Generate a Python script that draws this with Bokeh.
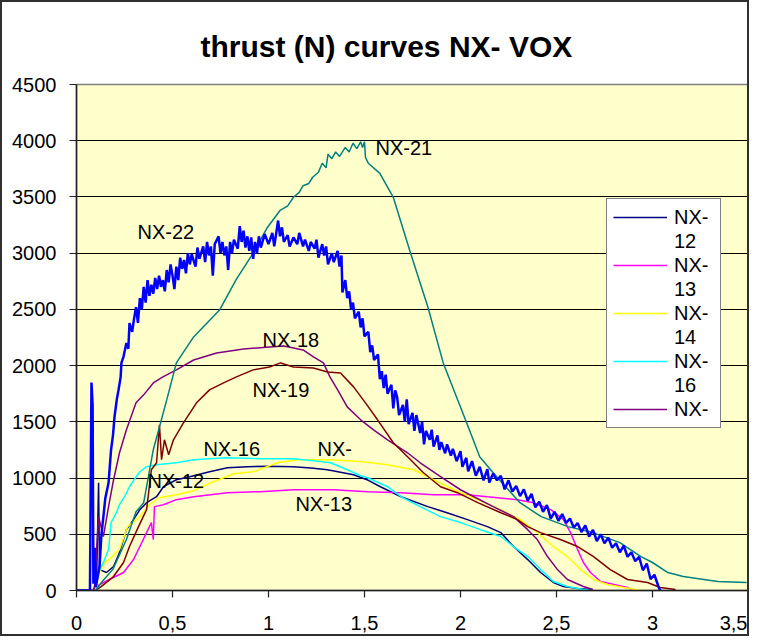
from bokeh.plotting import figure
from bokeh.models import FixedTicker, Legend, LegendItem, ColumnDataSource
from bokeh.core.properties import value
from bokeh.embed import file_html
from bokeh.resources import INLINE

# ---------------- data (time s, thrust N) ----------------
nx12_x = [0.0, 0.09, 0.104, 0.115, 0.12, 0.156, 0.193, 0.224, 0.26, 0.297, 0.33, 0.365, 0.417, 0.453, 0.52, 0.59, 0.693, 0.786, 0.89, 1.0, 1.13, 1.22, 1.307, 1.443, 1.52, 1.583, 1.69, 1.83, 1.93, 2.036, 2.14, 2.21, 2.276, 2.35, 2.417, 2.484, 2.536, 2.61, 2.68]
nx12_y = [0, 0, 36, 958, 186, 160, 213, 337, 541, 630, 719, 781, 834, 923, 985, 1012, 1056, 1092, 1101, 1105, 1101, 1090, 1074, 1030, 980, 923, 834, 746, 692, 630, 568, 515, 391, 275, 160, 71, 36, 18, 9]

nx13_x = [0.0, 0.09, 0.104, 0.17, 0.245, 0.297, 0.33, 0.365, 0.39, 0.40, 0.406, 0.453, 0.52, 0.61, 0.786, 0.958, 1.13, 1.34, 1.516, 1.69, 1.86, 2.036, 2.14, 2.297, 2.38, 2.47, 2.536, 2.573, 2.61, 2.64, 2.677, 2.73, 2.80, 2.87, 2.90]
nx13_y = [0, 0, 36, 98, 160, 275, 391, 515, 604, 453, 746, 763, 808, 834, 870, 879, 896, 896, 879, 870, 852, 852, 834, 808, 781, 719, 630, 515, 364, 249, 160, 80, 53, 27, 0]

nx14_x = [0.0, 0.1, 0.115, 0.146, 0.17, 0.224, 0.266, 0.33, 0.38, 0.43, 0.52, 0.61, 0.70, 0.82, 0.92, 1.047, 1.15, 1.323, 1.495, 1.62, 1.755, 1.86, 1.964, 2.09, 2.21, 2.31, 2.40, 2.484, 2.557, 2.625, 2.693, 2.766, 2.85, 2.94]
nx14_y = [0, 0, 142, 249, 275, 364, 568, 657, 763, 825, 852, 888, 958, 1038, 1056, 1136, 1163, 1163, 1145, 1118, 1074, 985, 896, 808, 719, 630, 515, 391, 302, 186, 98, 53, 27, 0]

nx16_x = [0.0, 0.1, 0.115, 0.14, 0.167, 0.18, 0.208, 0.224, 0.25, 0.276, 0.30, 0.33, 0.365, 0.417, 0.52, 0.61, 0.78, 0.958, 1.13, 1.234, 1.323, 1.41, 1.48, 1.516, 1.62, 1.69, 1.79, 1.896, 2.0, 2.104, 2.21, 2.276, 2.35, 2.417, 2.484, 2.557, 2.64, 2.68]
nx16_y = [0, 0, 160, 249, 364, 604, 692, 763, 834, 923, 985, 1056, 1101, 1118, 1136, 1163, 1180, 1172, 1172, 1154, 1136, 1074, 1021, 1003, 923, 834, 746, 657, 604, 541, 480, 391, 302, 186, 80, 36, 9, 0]

nx18_x = [0.0, 0.085, 0.094, 0.115, 0.14, 0.167, 0.193, 0.224, 0.26, 0.31, 0.35, 0.40, 0.45, 0.52, 0.61, 0.73, 0.87, 1.005, 1.08, 1.18, 1.234, 1.286, 1.32, 1.36, 1.41, 1.48, 1.547, 1.62, 1.724, 1.79, 1.896, 2.0, 2.07, 2.17, 2.276, 2.35, 2.40, 2.453, 2.505, 2.557, 2.64, 2.69]
nx18_y = [0, 0, 36, 657, 480, 746, 985, 1225, 1429, 1669, 1740, 1846, 1900, 1962, 2050, 2112, 2148, 2166, 2175, 2139, 2077, 2024, 1900, 1784, 1633, 1518, 1429, 1340, 1225, 1136, 1012, 896, 834, 746, 657, 541, 453, 302, 186, 98, 36, 9]

nx19_x = [0.0, 0.1, 0.13, 0.193, 0.245, 0.276, 0.323, 0.365, 0.39, 0.417, 0.432, 0.443, 0.458, 0.48, 0.505, 0.557, 0.625, 0.693, 0.766, 0.833, 0.92, 1.005, 1.063, 1.13, 1.234, 1.307, 1.375, 1.443, 1.505, 1.568, 1.65, 1.74, 1.807, 1.896, 1.984, 2.09, 2.21, 2.297, 2.35, 2.417, 2.52, 2.61, 2.693, 2.78, 2.87, 2.974, 3.04, 3.12]
nx19_y = [0, 0, 36, 124, 249, 391, 568, 719, 1074, 1136, 1473, 1163, 1340, 1207, 1340, 1491, 1669, 1784, 1846, 1900, 1962, 1988, 2024, 1988, 1979, 1944, 1935, 1811, 1669, 1518, 1314, 1163, 1047, 923, 870, 781, 692, 630, 568, 515, 453, 391, 302, 186, 98, 71, 27, 9]

nx21_x = [0.0, 0.1, 0.13, 0.19, 0.26, 0.31, 0.35, 0.40, 0.47, 0.52, 0.61, 0.745, 0.83, 0.92, 0.995, 1.06, 1.10, 1.13, 1.16, 1.18, 1.21, 1.23, 1.26, 1.28, 1.30, 1.31, 1.33, 1.35, 1.37, 1.40, 1.42, 1.44, 1.46, 1.48, 1.49, 1.50, 1.505, 1.52, 1.58, 1.65, 1.74, 1.83, 1.91, 2.04, 2.10, 2.17, 2.31, 2.42, 2.56, 2.69, 2.83, 2.94, 3.00, 3.08, 3.16, 3.34, 3.49]
nx21_y = [0, 0, 71, 190, 453, 700, 781, 1252, 1695, 2024, 2255, 2494, 2760, 3000, 3231, 3380, 3420, 3497, 3540, 3600, 3620, 3675, 3720, 3800, 3760, 3880, 3840, 3900, 3860, 3940, 3900, 3977, 3930, 3990, 3940, 3990, 3852, 3800, 3710, 3497, 3000, 2521, 2024, 1456, 1189, 1047, 781, 657, 568, 515, 426, 302, 249, 160, 124, 80, 71]

nx22_x = [0.0, 0.07, 0.078, 0.084, 0.088, 0.095, 0.10, 0.11, 0.12, 0.13, 0.14, 0.15, 0.167, 0.18, 0.19, 0.198, 0.21, 0.219, 0.23, 0.234, 0.245, 0.26, 0.27, 0.276, 0.29,
          0.30, 0.31, 0.32, 0.33, 0.34, 0.35, 0.36, 0.37, 0.38, 0.39, 0.40, 0.41, 0.42, 0.43, 0.44, 0.45, 0.46, 0.47, 0.48, 0.49,
          0.50, 0.51, 0.52, 0.53, 0.54, 0.55, 0.56, 0.57, 0.58, 0.59, 0.60, 0.62, 0.63, 0.64, 0.66, 0.67, 0.68, 0.69,
          0.70, 0.71, 0.72, 0.74, 0.75, 0.76, 0.77, 0.78, 0.79, 0.80, 0.81, 0.82, 0.84, 0.85, 0.86, 0.87, 0.88, 0.89,
          0.90, 0.91, 0.92, 0.93, 0.94, 0.95, 0.96, 0.98, 1.00, 1.02, 1.03, 1.05, 1.06, 1.07, 1.08, 1.10, 1.11, 1.13,
          1.15, 1.16, 1.18, 1.19, 1.21, 1.22, 1.24, 1.25, 1.26, 1.28, 1.29, 1.30, 1.31, 1.33, 1.34, 1.36, 1.37, 1.38,
          1.385, 1.40, 1.41, 1.42, 1.43, 1.44, 1.45, 1.47, 1.48, 1.49, 1.50, 1.52, 1.53, 1.54, 1.55, 1.57, 1.58, 1.59,
          1.60, 1.61, 1.62, 1.64, 1.65, 1.66, 1.67, 1.68, 1.70, 1.71, 1.72, 1.73, 1.75, 1.76, 1.77, 1.79,
          1.80, 1.81, 1.82, 1.84, 1.85, 1.86, 1.88, 1.89, 1.90, 1.92, 1.93, 1.95, 1.96, 1.98,
          2.00, 2.01, 2.03, 2.04, 2.06, 2.08, 2.10, 2.12, 2.14, 2.15, 2.17, 2.19, 2.21, 2.23, 2.25, 2.27, 2.29,
          2.31, 2.33, 2.35, 2.37, 2.39, 2.41, 2.43, 2.45, 2.47, 2.49, 2.51, 2.53, 2.55, 2.57, 2.59,
          2.61, 2.63, 2.65, 2.67, 2.69, 2.71, 2.73, 2.75, 2.77, 2.79, 2.81, 2.83, 2.85, 2.87, 2.89,
          2.91, 2.93, 2.95, 2.97, 2.99, 3.01, 3.03, 3.04]
nx22_y = [0, 0, 1850, 1650, 60, 380, 30, 120, 213, 500, 657, 820, 958, 1252, 1380, 1545, 1700, 1784, 1900, 2024, 2080, 2201, 2150, 2379, 2300,
          2420, 2520, 2380, 2600, 2500, 2700, 2560, 2760, 2620, 2720, 2640, 2780, 2680, 2800, 2700, 2760, 2660, 2850, 2740, 2900,
          2800, 2680, 2880, 2760, 2960, 2860, 2940, 2820, 3000, 2900, 2990, 2880, 3050, 2950, 3060, 2920, 3100, 2980,
          3060, 2800, 3080, 3150, 3000, 3100, 2980, 3060, 2850, 3100, 3000, 3120, 3040, 3240, 3100, 3200, 3050, 3150,
          3020, 3140, 2950, 3100, 3000, 3150, 3050, 3170, 3080, 3180, 3060, 3290, 3150, 3230, 3100, 3160, 3060, 3140,
          3080, 3180, 3060, 3120, 3020, 3100, 3040, 3120, 2960, 3080, 2980, 3060, 2900, 3000, 2920, 3020, 2880, 2980,
          2650, 2760, 2600, 2660, 2500, 2560, 2420, 2480, 2340, 2420, 2260, 2300, 2120, 2180, 2050, 2100, 1880, 1950,
          1800, 1920, 1750, 1830, 1620, 1780, 1720, 1560, 1650, 1500, 1700, 1480, 1580, 1420, 1560, 1400,
          1500, 1300, 1420, 1340, 1430, 1280, 1380, 1250, 1320, 1220, 1300, 1200, 1260, 1150,
          1240, 1100, 1180, 1060, 1150, 1020, 1100, 980, 1080, 960, 1040, 980, 1020, 900, 980, 880, 930,
          840, 900, 800, 860, 740, 790, 700, 760, 640, 700, 620, 680, 600, 640, 560,
          600, 520, 580, 480, 540, 440, 500, 420, 470, 380, 420, 340, 400, 300, 340,
          260, 300, 180, 240, 100, 140, 40, 0]

series_names = ["NX-12", "NX-13", "NX-14", "NX-16", "NX-18", "NX-19", "NX-21", "NX-22"]
series_colors = ["#000080", "#FF00FF", "#FFFF00", "#00FFFF", "#800080", "#800000", "#008080", "#0000FF"]
series_widths = [1.5, 1.5, 1.5, 1.5, 1.5, 1.5, 1.5, 2.5]

# curve labels on the chart
label_text = ["NX-21", "NX-22", "NX-18", "NX-19", "NX-16", "NX-", "NX-12", "NX-13"]
label_x = [1.557, 0.318, 0.969, 0.917, 0.661, 1.255, 0.37, 1.14]
label_y = [3932, 3187, 2228, 1784, 1260, 1260, 976, 772]

# legend entries (text wraps and is cut off in the original)
legend_first = ["NX-", "NX-", "NX-", "NX-", "NX-"]
legend_second = ["12", "13", "14", "16"]

x_ticks = [0, 0.5, 1, 1.5, 2, 2.5, 3, 3.5]
x_tick_labels = ["0", "0,5", "1", "1,5", "2", "2,5", "3", "3,5"]
y_ticks = [0, 500, 1000, 1500, 2000, 2500, 3000, 3500, 4000, 4500]

FONT = "Liberation Sans"

p = figure(width=749, height=636, x_range=(0, 3.5), y_range=(0, 4500),
           output_backend="svg", toolbar_location=None,
           title="thrust (N) curves NX- VOX")
p.min_border_left = 74
p.min_border_right = 3
p.min_border_top = 82
p.min_border_bottom = 48
p.background_fill_color = "#FFFFCC"
p.border_fill_color = "white"
p.outline_line_color = "#808080"
p.outline_line_width = 1.5
p.styles = {"border": "2px solid #303030"}

p.title.align = "left"
p.title.offset = 124
p.title.text_font = FONT
p.title.text_font_size = "30px"
p.title.text_font_style = "bold"
p.title.text_color = "black"
p.title.standoff = 43

p.xgrid.grid_line_color = None
p.ygrid.grid_line_color = "black"
p.ygrid.grid_line_width = 1.2
p.ygrid.ticker = FixedTicker(ticks=y_ticks)

p.xaxis.ticker = FixedTicker(ticks=x_ticks)
p.xaxis.major_label_overrides = {t: s for t, s in zip(x_ticks, x_tick_labels)}
p.yaxis.ticker = FixedTicker(ticks=y_ticks)
for ax in (p.xaxis, p.yaxis):
    ax.axis_line_color = "#202020"
    ax.axis_line_width = 1.5
    ax.major_tick_line_color = "#202020"
    ax.major_tick_line_width = 1.2
    ax.major_tick_out = 7
    ax.major_tick_in = 0
    ax.minor_tick_line_color = None
    ax.major_label_text_font = FONT
    ax.major_label_text_font_size = "20px"
    ax.major_label_text_color = "black"
p.xaxis.major_label_standoff = 18
p.yaxis.major_label_standoff = 13

xs = [nx12_x, nx13_x, nx14_x, nx16_x, nx18_x, nx19_x, nx21_x, nx22_x]
ys = [nx12_y, nx13_y, nx14_y, nx16_y, nx18_y, nx19_y, nx21_y, nx22_y]
renderers = []
for x, y, c, w in zip(xs, ys, series_colors, series_widths):
    r = p.line(x, y, line_color=c, line_width=w)
    renderers.append(r)

src = ColumnDataSource(dict(x=label_x, y=label_y, t=label_text))
p.text(x="x", y="y", text="t", source=src, text_font=value(FONT),
       text_font_size="20px", text_color="black",
       text_baseline="middle", text_align="left")

# legend: first text line carries the swatch, second line is text only
blank = p.line([], [], line_alpha=0)
items = []
for i, first in enumerate(legend_first):
    items.append(LegendItem(label=first, renderers=[renderers[i]]))
    if i < len(legend_second):
        items.append(LegendItem(label=legend_second[i], renderers=[blank]))
legend = Legend(items=items, location=(530, 162))
legend.border_line_color = "black"
legend.border_line_dash = "dashed"
legend.border_line_width = 1.2
legend.background_fill_color = "white"
legend.background_fill_alpha = 1.0
legend.label_text_font = FONT
legend.label_text_font_size = "20px"
legend.label_text_color = "black"
legend.label_height = 24
legend.label_width = 40
legend.glyph_height = 24
legend.glyph_width = 54
legend.label_standoff = 7
legend.spacing = 0
legend.padding = 6
legend.margin = 0
p.add_layout(legend)

open("out.html", "w").write(file_html(p, INLINE))
